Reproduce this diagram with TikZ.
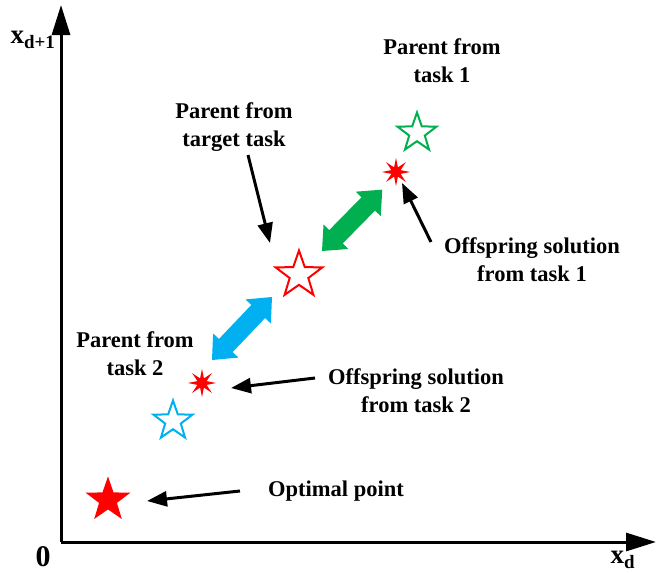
\documentclass[tikz,border=0pt]{standalone}
\usepackage{fontspec}
\setmainfont{Liberation Serif}
\usetikzlibrary{shapes.geometric,arrows.meta}

\definecolor{tred}{RGB}{255,0,0}
\definecolor{tgreen}{RGB}{0,176,80}
\definecolor{tblue}{RGB}{0,176,240}

\newcommand{\blockarrow}[4]{%
  % #1 colour, #2 start, #3 angle, #4 length
  \begin{scope}[shift={#2}, rotate=#3]
    \fill[#1] (0,0) -- (20,17.5) -- (20,9.5) -- (#4-20,9.5) -- (#4-20,17.5) -- (#4,0)
      -- (#4-20,-17.5) -- (#4-20,-9.5) -- (20,-9.5) -- (20,-17.5) -- cycle;
  \end{scope}}

\begin{document}
\begin{tikzpicture}[x=1pt,y=-1pt,
  lbl/.style={font=\fontsize{22.5}{28}\selectfont\bfseries, align=center, inner sep=0pt},
  axis/.style={line width=3pt, -{Triangle[length=30pt,width=18pt]}},
  pointer/.style={line width=3pt, -{Triangle[length=20pt,width=15pt]}},
  openstar/.style={star, star points=5, star point ratio=2.5, minimum size=#1,
    inner sep=0pt, line width=2pt, fill=white},
  burst/.style={star, star points=8, star point ratio=2.8, minimum size=28pt,
    inner sep=0pt, fill=tred}]
  \useasboundingbox (0,0) rectangle (657,573);

  % axes
  \coordinate (origin) at (61,542);
  \coordinate (ytip) at (61,5);
  \coordinate (xtip) at (656,542);
  \draw[axis] (origin) -- (ytip);
  \draw[axis] (origin) -- (xtip);
  \node[inner sep=0pt, font=\fontsize{30}{30}\selectfont\bfseries] (zero) at (43,557) {0};
  \node[inner sep=0pt, font=\fontsize{27}{27}\selectfont\bfseries] (ylab) at (33,40)
    {x\textsubscript{d+1}};
  \node[inner sep=0pt, font=\fontsize{27}{27}\selectfont\bfseries] (xlab) at (623,560)
    {x\textsubscript{d}};

  % points
  \node[openstar=41pt, draw=tgreen] (p1) at (417,133) {};
  \node[burst] (o1) at (396,172) {};
  \node[openstar=49pt, draw=tred] (pt) at (299,275) {};
  \node[burst] (o2) at (202,383) {};
  \node[openstar=41pt, draw=tblue] (p2) at (173,421) {};
  \node[star, star points=5, star point ratio=2.5, minimum size=47pt, inner sep=0pt,
    fill=tred] (opt) at (108,500) {};

  % knowledge transfer arrows
  \blockarrow{tblue}{(212,360)}{46.4}{87}
  \blockarrow{tgreen}{(322,251)}{45.5}{86}

  % labels
  \node[lbl] (l1) at (442,61) {Parent from\\task 1};
  \node[lbl] (lt) at (234,127) {Parent from\\target task};
  \node[lbl] (lo1) at (532,260) {Offspring solution\\from task 1};
  \node[lbl] (l2) at (135,354) {Parent from\\task 2};
  \node[lbl] (lo2) at (416,391) {Offspring solution\\from task 2};
  \node[lbl] (lopt) at (336,491) {Optimal point};

  % pointers
  \coordinate (a1s) at (248,155);  \coordinate (a1e) at (270,243);
  \coordinate (a2s) at (431,242);  \coordinate (a2e) at (402,183);
  \coordinate (a3s) at (315,378);  \coordinate (a3e) at (231,388);
  \coordinate (a4s) at (240,491);  \coordinate (a4e) at (147,501);
  \draw[pointer] (a1s) -- (a1e);
  \draw[pointer] (a2s) -- (a2e);
  \draw[pointer] (a3s) -- (a3e);
  \draw[pointer] (a4s) -- (a4e);
\end{tikzpicture}
\end{document}
